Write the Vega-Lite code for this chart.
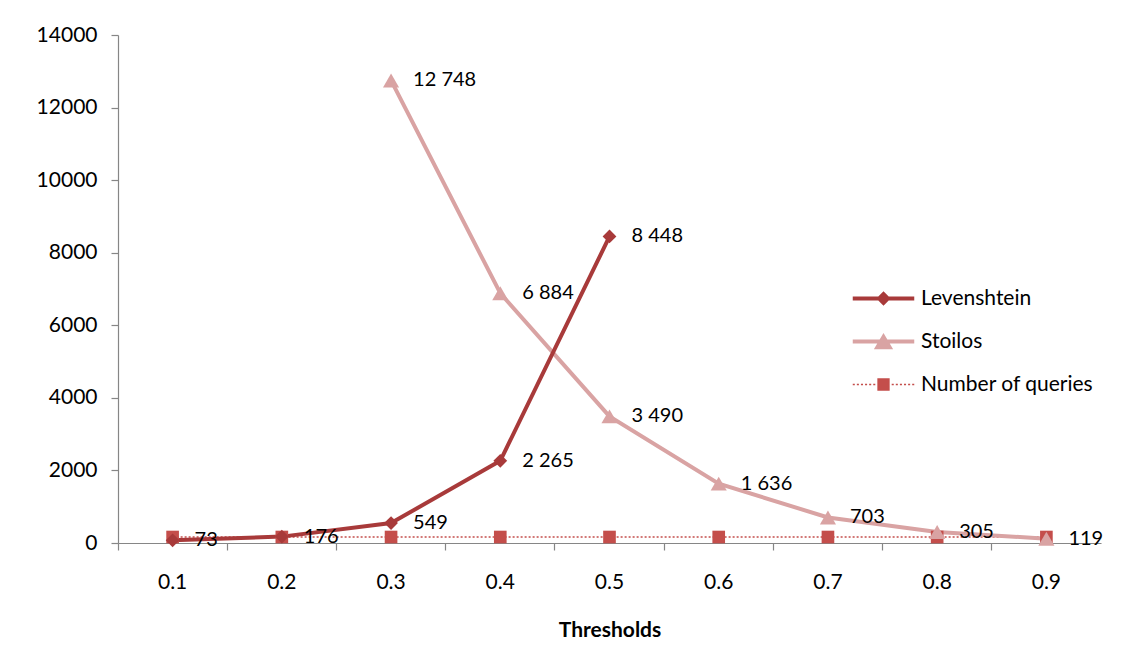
{
  "$schema": "https://vega.github.io/schema/vega-lite/v6.json",
  "width": 983,
  "height": 508,
  "autosize": {"type": "none"},
  "padding": {"left": 118, "top": 35, "right": 20, "bottom": 125},
  "background": "white",
  "config": {
    "view": {"stroke": null},
    "font": "Lato",
    "locale": {"number": {"decimal": ".", "thousands": "\u00a0", "grouping": [3], "currency": ["", ""]}}
  },
  "data": {"values": [
    {"t": "0.1", "series": "Levenshtein", "v": 73},
    {"t": "0.2", "series": "Levenshtein", "v": 176},
    {"t": "0.3", "series": "Levenshtein", "v": 549},
    {"t": "0.4", "series": "Levenshtein", "v": 2265},
    {"t": "0.5", "series": "Levenshtein", "v": 8448},
    {"t": "0.3", "series": "Stoilos", "v": 12748},
    {"t": "0.4", "series": "Stoilos", "v": 6884},
    {"t": "0.5", "series": "Stoilos", "v": 3490},
    {"t": "0.6", "series": "Stoilos", "v": 1636},
    {"t": "0.7", "series": "Stoilos", "v": 703},
    {"t": "0.8", "series": "Stoilos", "v": 305},
    {"t": "0.9", "series": "Stoilos", "v": 119},
    {"t": "0.1", "series": "Number of queries", "v": 165},
    {"t": "0.2", "series": "Number of queries", "v": 165},
    {"t": "0.3", "series": "Number of queries", "v": 165},
    {"t": "0.4", "series": "Number of queries", "v": 165},
    {"t": "0.5", "series": "Number of queries", "v": 165},
    {"t": "0.6", "series": "Number of queries", "v": 165},
    {"t": "0.7", "series": "Number of queries", "v": 165},
    {"t": "0.8", "series": "Number of queries", "v": 165},
    {"t": "0.9", "series": "Number of queries", "v": 165}
  ]},
  "encoding": {
    "x": {
      "field": "t", "type": "ordinal",
      "scale": {"type": "band", "paddingInner": 0, "paddingOuter": 0, "domain": ["0.1","0.2","0.3","0.4","0.5","0.6","0.7","0.8","0.9"]},
      "axis": {
        "title": "Thresholds", "titleFont": "Lato", "titleFontSize": 21, "titleFontWeight": "bold", "titleColor": "#000", "titlePadding": 27,
        "labelFont": "Lato", "labelFontSize": 21, "labelColor": "#000", "labelAngle": 0, "labelPadding": 21, "labelBaseline": "top",
        "bandPosition": 0, "tickSize": 7, "tickColor": "#868686", "domainColor": "#868686", "domainWidth": 1.2, "tickWidth": 1.2, "grid": false
      }
    },
    "y": {
      "field": "v", "type": "quantitative",
      "scale": {"domain": [0, 14000], "nice": false},
      "axis": {
        "title": null, "values": [0,2000,4000,6000,8000,10000,12000,14000], "format": "d",
        "labelFont": "Lato", "labelFontSize": 21, "labelColor": "#000", "labelPadding": 14,
        "tickSize": 7, "tickColor": "#868686", "domainColor": "#868686", "domainWidth": 1.2, "tickWidth": 1.2, "grid": false
      }
    }
  },
  "layer": [
    {
      "transform": [{"filter": "datum.series == 'Number of queries'"}],
      "mark": {"type": "line", "color": "#C44E4B", "strokeWidth": 1.5, "strokeDash": [2, 2]},
      "encoding": {}
    },
    {
      "transform": [{"filter": "datum.series == 'Stoilos'"}],
      "mark": {"type": "line", "color": "#D9A3A3", "strokeWidth": 4},
      "encoding": {}
    },
    {
      "transform": [{"filter": "datum.series == 'Levenshtein'"}],
      "mark": {"type": "line", "color": "#A83A3A", "strokeWidth": 4},
      "encoding": {}
    },
    {
      "transform": [{"filter": "datum.series == 'Number of queries'"}],
      "mark": {"type": "point", "shape": "square", "size": 160, "filled": true, "opacity": 1, "color": "#C44E4B"},
      "encoding": {}
    },
    {
      "transform": [{"filter": "datum.series == 'Levenshtein'"}],
      "mark": {"type": "point", "shape": "diamond", "size": 190, "filled": true, "opacity": 1, "color": "#A83A3A"},
      "encoding": {}
    },
    {
      "transform": [{"filter": "datum.series == 'Stoilos'"}],
      "mark": {"type": "point", "shape": "triangle-up", "size": 260, "filled": true, "opacity": 1, "color": "#D9A3A3"},
      "encoding": {}
    },
    {
      "transform": [{"filter": "datum.v < 0"}],
      "mark": {"type": "point", "filled": true, "opacity": 1, "size": 1681},
      "encoding": {
        "color": {"field": "series", "type": "nominal",
          "scale": {"domain": ["Levenshtein", "Stoilos", "Number of queries"], "range": ["#A83A3A", "#D9A3A3", "#C44E4B"]},
          "legend": {
            "title": null, "orient": "none", "legendX": 745, "legendY": 243,
            "symbolSize": 1681, "symbolStrokeWidth": 0, "symbolOpacity": 1,
            "labelFont": "Lato", "labelFontSize": 21, "labelColor": "#000", "labelOffset": 17, "rowPadding": 12, "labelLimit": 300
          }},
        "shape": {"field": "series", "type": "nominal",
          "scale": {"domain": ["Levenshtein", "Stoilos", "Number of queries"],
            "range": [
              "M-1.5,-0.1L1.5,-0.1L1.5,0.1L-1.5,0.1Z M0,-0.35L0.35,0L0,0.35L-0.35,0Z",
              "M-1.5,-0.1L1.5,-0.1L1.5,0.1L-1.5,0.1Z M0,-0.42L0.47,0.38L-0.47,0.38Z",
              "M-1.5,-0.04h0.1v0.08h-0.1Z M-1.3,-0.04h0.1v0.08h-0.1Z M-1.1,-0.04h0.1v0.08h-0.1Z M-0.9,-0.04h0.1v0.08h-0.1Z M-0.7,-0.04h0.1v0.08h-0.1Z M-0.5,-0.04h0.1v0.08h-0.1Z M0.4,-0.04h0.1v0.08h-0.1Z M0.6,-0.04h0.1v0.08h-0.1Z M0.8,-0.04h0.1v0.08h-0.1Z M1.0,-0.04h0.1v0.08h-0.1Z M1.2,-0.04h0.1v0.08h-0.1Z M1.4,-0.04h0.1v0.08h-0.1Z M-0.3,-0.3h0.6v0.6h-0.6Z"
            ]},
          "legend": {"title": null}
        }
      }
    },
    {
      "transform": [{"filter": "datum.series != 'Number of queries'"}],
      "mark": {"type": "text", "align": "left", "baseline": "middle", "dx": 22, "font": "Lato", "fontSize": 20, "color": "#000"},
      "encoding": {"text": {"field": "v", "type": "quantitative", "format": ","}}
    }
  ]
}
